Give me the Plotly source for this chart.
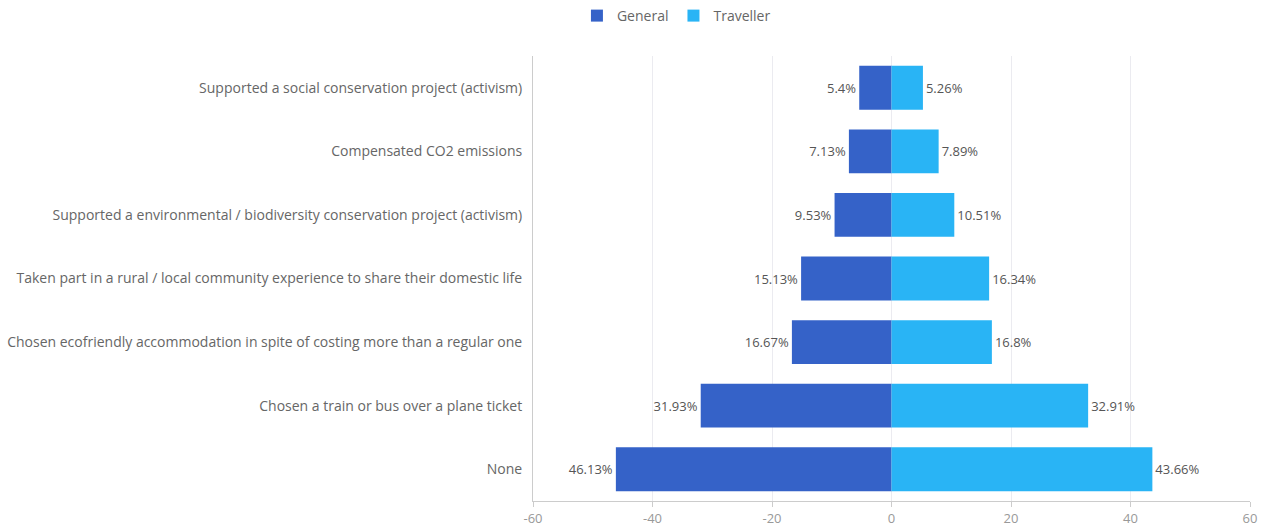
import plotly.graph_objects as go

categories = [
    "Supported a social conservation project (activism)",
    "Compensated CO2 emissions",
    "Supported a environmental / biodiversity conservation project (activism)",
    "Taken part in a rural / local community experience to share their domestic life",
    "Chosen ecofriendly accommodation in spite of costing more than a regular one",
    "Chosen a train or bus over a plane ticket",
    "None",
]
general = [5.4, 7.13, 9.53, 15.13, 16.67, 31.93, 46.13]
traveller = [5.26, 7.89, 10.51, 16.34, 16.8, 32.91, 43.66]
tick_vals = [-60, -40, -20, 0, 20, 40, 60]

font_family = "Open Sans, Noto Sans, sans-serif"
text_color = "#666666"

fig = go.Figure()
fig.add_trace(go.Bar(
    name="General",
    y=categories,
    x=[-v for v in general],
    orientation="h",
    marker=dict(color="#3562c8", line=dict(width=0)),
    text=[f"{v}%" for v in general],
    textposition="outside",
    textfont=dict(size=13, color="#555555", family=font_family),
    cliponaxis=False,
    width=0.69,
))
fig.add_trace(go.Bar(
    name="Traveller",
    y=categories,
    x=traveller,
    orientation="h",
    marker=dict(color="#29b4f5", line=dict(width=0)),
    text=[f"{v}%" for v in traveller],
    textposition="outside",
    textfont=dict(size=13, color="#555555", family=font_family),
    cliponaxis=False,
    width=0.69,
))

fig.update_layout(
    width=1262,
    height=526,
    barmode="relative",
    margin=dict(l=533, r=12, t=56, b=25),
    paper_bgcolor="white",
    plot_bgcolor="white",
    font=dict(family=font_family, size=13, color=text_color),
    legend=dict(
        orientation="h",
        x=0.536, xanchor="center",
        y=1.0, yanchor="top",
        xref="container", yref="container",
        font=dict(size=14, color=text_color),
        itemsizing="constant",
    ),
    xaxis=dict(
        range=[-60, 60],
        tickvals=tick_vals,
        ticktext=[str(v) for v in tick_vals],
        automargin=False,
        showgrid=True,
        gridcolor="#ebebf0",
        zeroline=False,
        showline=True,
        linecolor="#cccccc",
        ticks="outside",
        ticklen=5,
        tickcolor="#cccccc",
        tickfont=dict(size=13, color="#999999"),
    ),
    yaxis=dict(
        autorange="reversed",
        automargin=False,
        showgrid=False,
        showline=True,
        linecolor="#cccccc",
        ticks="",
        ticklabelstandoff=7,
        tickfont=dict(size=14, color=text_color),
    ),
)

fig.write_html("out.html")
